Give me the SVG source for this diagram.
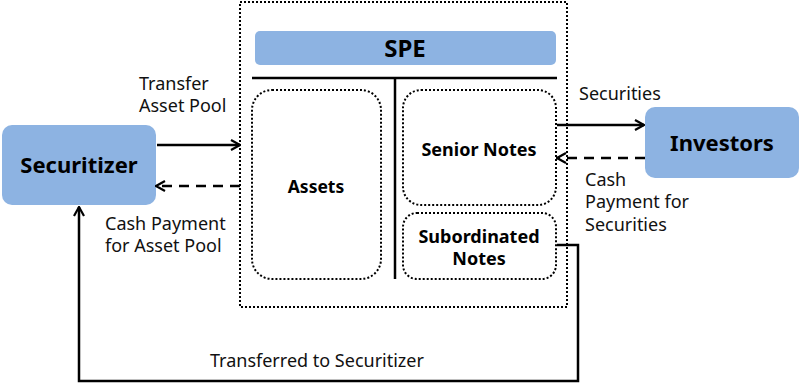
<svg xmlns="http://www.w3.org/2000/svg" width="800" height="383" viewBox="0 0 800 383">
  <defs>
    <marker id="chev" viewBox="0 0 12 12" refX="11" refY="6" markerWidth="12" markerHeight="12" markerUnits="userSpaceOnUse" orient="auto">
      <path d="M2,1 L11,6 L2,11" fill="none" stroke="#000" stroke-width="2.2"/>
    </marker>
  </defs>
  <style>
    .blue { fill: #8db3e2; }
    .dot { fill: none; stroke: #000; stroke-width: 2; stroke-dasharray: 2 2; }
    .solid { fill: none; stroke: #000; stroke-width: 2.5; }
    .dash { fill: none; stroke: #000; stroke-width: 2.5; stroke-dasharray: 10 7; }
    .lbl { font-family: "Noto Sans", "Open Sans", sans-serif; font-size: 18px; fill: #111; }
    .bold { font-family: "Noto Sans", "Open Sans", sans-serif; font-weight: bold; fill: #000; text-anchor: middle; }
  </style>
  <rect width="800" height="383" fill="#fff"/>

  <!-- SPE container -->
  <g id="spe">
    <rect class="dot" x="240" y="2" width="327" height="305"/>
    <rect class="blue" x="255" y="31" width="301" height="34" rx="5"/>
    <text class="bold" x="405" y="57" font-size="24">SPE</text>
    <line x1="252" y1="78" x2="557" y2="78" stroke="#000" stroke-width="2.5"/>
    <line x1="395" y1="78" x2="395" y2="279" stroke="#000" stroke-width="2.5"/>
  </g>

  <g id="assets">
    <rect class="dot" x="252" y="90" width="129" height="189" rx="20"/>
    <text class="bold" x="316" y="193" font-size="17.5">Assets</text>
  </g>

  <g id="senior-notes">
    <rect class="dot" x="403" y="90" width="153" height="115" rx="18"/>
    <text class="bold" x="479" y="156" font-size="18">Senior Notes</text>
  </g>

  <g id="subordinated-notes">
    <rect class="dot" x="403" y="213" width="153" height="66" rx="14"/>
    <text class="bold" x="479" y="243" font-size="18">Subordinated</text>
    <text class="bold" x="479" y="265" font-size="18">Notes</text>
  </g>

  <g id="securitizer">
    <rect class="blue" x="2" y="125" width="154" height="80" rx="10"/>
    <text class="bold" x="79" y="173" font-size="22">Securitizer</text>
  </g>

  <g id="investors">
    <rect class="blue" x="645" y="107" width="154" height="71" rx="10"/>
    <text class="bold" x="722" y="151" font-size="22">Investors</text>
  </g>

  <!-- connectors -->
  <g id="connectors">
    <line class="solid" x1="157" y1="145" x2="240" y2="145" marker-end="url(#chev)"/>
    <line class="dash" x1="240" y1="186" x2="156" y2="186" marker-end="url(#chev)"/>
    <line class="solid" x1="557" y1="125" x2="644" y2="125" marker-end="url(#chev)"/>
    <line class="dash" x1="645" y1="158" x2="557" y2="158" marker-end="url(#chev)"/>
    <polyline class="solid" points="557,245 578,245 578,381 79,381 79,207" marker-end="url(#chev)"/>
  </g>

  <!-- connector labels -->
  <g id="labels">
    <text class="lbl" x="139" y="90">Transfer</text>
    <text class="lbl" x="139" y="112">Asset Pool</text>
    <text class="lbl" x="105" y="230">Cash Payment</text>
    <text class="lbl" x="105" y="252">for Asset Pool</text>
    <text class="lbl" x="579" y="100">Securities</text>
    <text class="lbl" x="585" y="186">Cash</text>
    <text class="lbl" x="585" y="208">Payment for</text>
    <text class="lbl" x="585" y="231">Securities</text>
    <text class="lbl" x="210" y="367">Transferred to Securitizer</text>
  </g>
</svg>
